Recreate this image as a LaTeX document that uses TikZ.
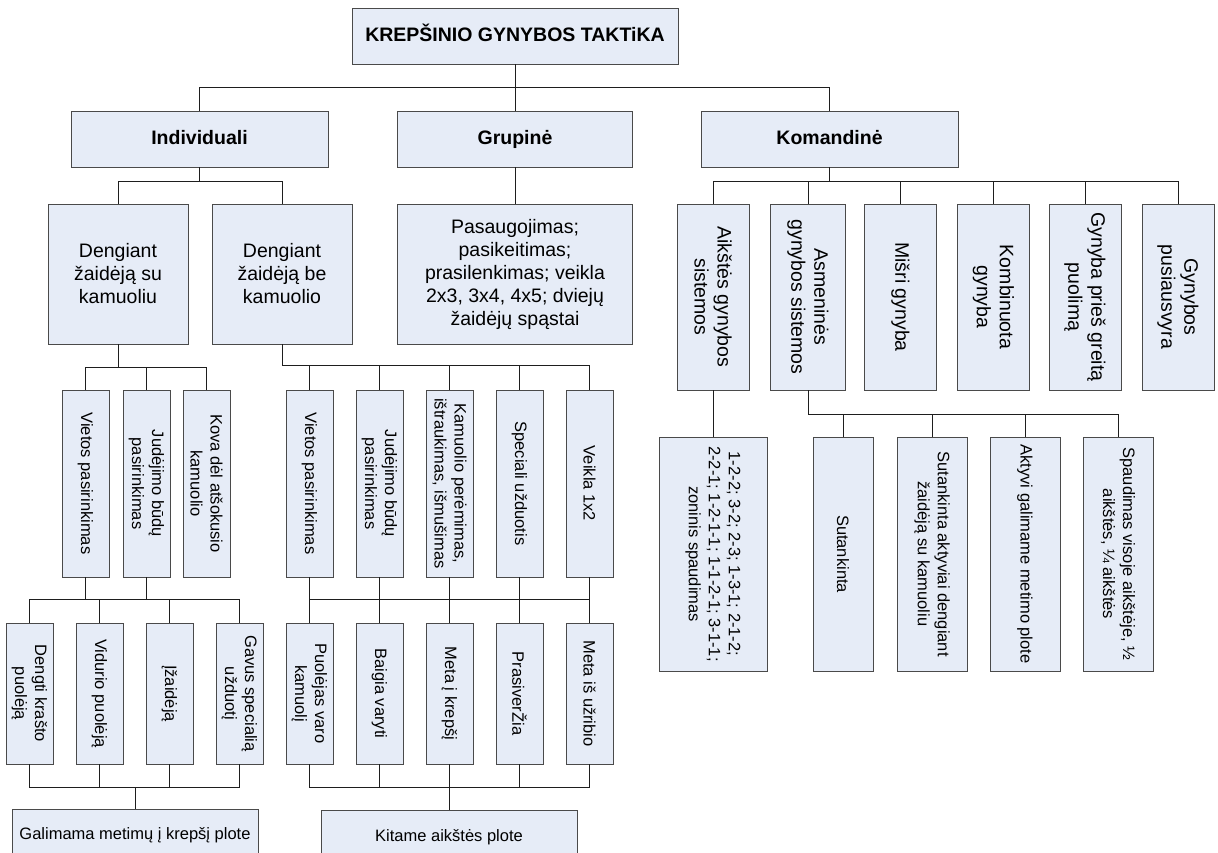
\documentclass[tikz,border=0pt]{standalone}
\usepackage{fontspec}
\setmainfont{Liberation Sans}
\definecolor{boxfill}{HTML}{E6ECF7}
\definecolor{boxline}{HTML}{4A4A4A}
\definecolor{wirecol}{HTML}{1E1E1E}
\newcommand\lgsize{\fontsize{19.5}{23}\selectfont}
\newcommand\smsize{\fontsize{16.5}{20}\selectfont}

\begin{document}
\begin{tikzpicture}[x=1pt,y=1pt,
  box/.style={draw=boxline, fill=boxfill, line width=0.9pt, inner sep=1pt, align=center},
  hbox/.style={box, font=\lgsize},
  hbold/.style={box, font=\lgsize\bfseries, text height=14pt, text depth=4pt},
  hsmall/.style={box, font=\smsize, text height=12pt, text depth=3.5pt},
  vbig/.style={box, rotate=-90, font=\lgsize},
  vsmall/.style={box, rotate=-90, font=\smsize},
  wire/.style={draw=wirecol, line width=0.9pt},
]
\useasboundingbox (0,0) rectangle (1218,-852);
\clip (0,0) rectangle (1218,-852);

% bus levels
\coordinate (bus0) at (0,-87);
\coordinate (bus1) at (0,-181);
\coordinate (busK) at (0,-414);
\coordinate (busL2) at (0,-367);
\coordinate (busR2) at (0,-365);
\coordinate (bus3) at (0,-599);
\coordinate (bus4) at (0,-787);

% root and main branches
\node[hbold, minimum width=326pt, minimum height=56pt] (root) at (515,-36) {KREPŠINIO GYNYBOS TAKTiKA};
\node[hbold, minimum width=257pt, minimum height=56pt] (ind) at (199.5,-139) {Individuali};
\node[hbold, minimum width=235pt, minimum height=56pt] (grp) at (515,-139) {Grupinė};
\node[hbold, minimum width=257pt, minimum height=56pt] (kom) at (829.5,-139) {Komandinė};

% second level
\node[hbox, minimum width=140pt, minimum height=140pt] (den1) at (118,-274) {Dengiant\\žaidėją su\\kamuoliu};
\node[hbox, minimum width=140pt, minimum height=140pt] (den2) at (282,-274) {Dengiant\\žaidėją be\\kamuolio};
\node[hbox, minimum width=235pt, minimum height=140pt] (pas) at (515,-274) {Pasaugojimas;\\pasikeitimas;\\prasilenkimas; veikla\\2x3, 3x4, 4x5; dviejų\\žaidėjų spąstai};

% team defence
\node[vbig, minimum width=186pt, minimum height=72pt] (k1) at (713,-297) {Aikštės gynybos\\sistemos};
\node[vbig, minimum width=186pt, minimum height=75pt] (k2) at (808,-297) {Asmeninės\\gynybos sistemos};
\node[vbig, minimum width=186pt, minimum height=72pt] (k3) at (900.5,-297) {Mišri gynyba};
\node[vbig, minimum width=186pt, minimum height=72pt] (k4) at (993.5,-297) {Kombinuota\\gynyba};
\node[vbig, minimum width=186pt, minimum height=72pt] (k5) at (1085,-297) {Gynyba prieš greitą\\puolimą};
\node[vbig, minimum width=186pt, minimum height=72pt] (k6) at (1178,-297) {Gynybos\\pusiausvyra};

\node[vsmall, minimum width=234pt, minimum height=108pt] (z1) at (713,-554) {1-2-2; 3-2; 2-3; 1-3-1; 2-1-2;\\2-2-1; 1-2-1-1; 1-1-2-1; 3-1-1;\\zoninis spaudimas};
\node[vsmall, minimum width=234pt, minimum height=60pt] (s1) at (843,-554) {Sutankinta};
\node[vsmall, minimum width=234pt, minimum height=70pt] (s2) at (932,-554) {Sutankinta aktyviai dengiant\\žaidėją su kamuoliu};
\node[vsmall, minimum width=234pt, minimum height=70pt] (s3) at (1025,-554) {Aktyvi galimame metimo plote};
\node[vsmall, minimum width=234pt, minimum height=70pt] (s4) at (1118,-554) {Spaudimas visoje aikštėje, ½\\aikštės, ¼ aikštės};

% guarding the ball carrier
\node[vsmall, minimum width=187pt, minimum height=47pt] (v1) at (85.5,-483.5) {Vietos pasirinkimas};
\node[vsmall, minimum width=187pt, minimum height=47pt] (v2) at (146.5,-483.5) {Judėjimo būdų\\pasirinkimas};
\node[vsmall, minimum width=187pt, minimum height=47pt] (v3) at (206.5,-483.5) {Kova dėl atšokusio\\kamuolio};

% guarding a player without the ball
\node[vsmall, minimum width=187pt, minimum height=47pt] (w1) at (309.5,-483.5) {Vietos pasirinkimas};
\node[vsmall, minimum width=187pt, minimum height=47pt] (w2) at (379.5,-483.5) {Judėjimo būdų\\pasirinkimas};
\node[vsmall, minimum width=187pt, minimum height=47pt] (w3) at (449.5,-483.5) {Kamuolio perėmimas,\\ištraukimas, išmušimas};
\node[vsmall, minimum width=187pt, minimum height=47pt] (w4) at (519.5,-483.5) {Speciali užduotis};
\node[vsmall, minimum width=187pt, minimum height=47pt] (w5) at (589.5,-483.5) {Veikla 1x2};

% third level, left
\node[vsmall, minimum width=141pt, minimum height=47pt] (d1) at (29.5,-693.5) {Dengti krašto\\puolėją};
\node[vsmall, minimum width=141pt, minimum height=47pt] (d2) at (99.5,-693.5) {Vidurio puolėją};
\node[vsmall, minimum width=141pt, minimum height=47pt] (d3) at (169.5,-693.5) {Įžaidėją};
\node[vsmall, minimum width=141pt, minimum height=47pt] (d4) at (239.5,-693.5) {Gavus specialią\\užduotį};

% third level, right
\node[vsmall, minimum width=141pt, minimum height=47pt] (m1) at (309.5,-693.5) {Puolėjas varo\\kamuolį};
\node[vsmall, minimum width=141pt, minimum height=47pt] (m2) at (379.5,-693.5) {Baigia varyti};
\node[vsmall, minimum width=141pt, minimum height=47pt] (m3) at (449.5,-693.5) {Meta į krepšį};
\node[vsmall, minimum width=141pt, minimum height=47pt] (m4) at (519.5,-693.5) {PrasiverŽia};
\node[vsmall, minimum width=141pt, minimum height=47pt] (m5) at (589.5,-693.5) {Meta iš užribio};

% court areas
\node[hsmall, minimum width=246pt, minimum height=52pt] (gal) at (135,-835) {Galimama metimų į krepšį plote};
\node[hsmall, minimum width=256pt, minimum height=54pt] (kit) at (449,-837) {Kitame aikštės plote};

% connectors: top
\draw[wire] (root.south) -- (grp.north);
\draw[wire] (ind.north) -- (ind.north |- bus0) -- (kom.north |- bus0) -- (kom.north);

% connectors: second level
\draw[wire] (ind.south) -- (ind.south |- bus1);
\draw[wire] (den1.north) -- (den1.north |- bus1) -- (den2.north |- bus1) -- (den2.north);
\draw[wire] (grp.south) -- (pas.north);
\draw[wire] (kom.south) -- (kom.south |- bus1);
\draw[wire] (k1.west) -- (k1.west |- bus1) -- (k6.west |- bus1) -- (k6.west);
\foreach \n in {k2,k3,k4,k5} \draw[wire] (\n.west) -- (\n.west |- bus1);

% connectors: team defence details
\draw[wire] (k1.east) -- (z1.west);
\draw[wire] (k2.east) -- (k2.east |- busK) -- (s4.west |- busK) -- (s4.west);
\foreach \n in {s1,s2,s3} \draw[wire] (\n.west) -- (\n.west |- busK);

% connectors: individual defence
\draw[wire] (den1.south) -- (den1.south |- busL2);
\draw[wire] (v1.west) -- (v1.west |- busL2) -- (v3.west |- busL2) -- (v3.west);
\draw[wire] (v2.west) -- (v2.west |- busL2);
\draw[wire] (den2.south) -- (den2.south |- busR2) -- (w5.west |- busR2) -- (w5.west);
\foreach \n in {w1,w2,w3,w4} \draw[wire] (\n.west) -- (\n.west |- busR2);

% connectors: third level, left
\draw[wire] (v1.east) -- (v1.east |- bus3);
\draw[wire] (v2.east) -- (v2.east |- bus3);
\draw[wire] (d1.west) -- (d1.west |- bus3) -- (d4.west |- bus3) -- (d4.west);
\foreach \n in {d2,d3} \draw[wire] (\n.west) -- (\n.west |- bus3);
\draw[wire] (d1.east) -- (d1.east |- bus4) -- (d4.east |- bus4) -- (d4.east);
\foreach \n in {d2,d3} \draw[wire] (\n.east) -- (\n.east |- bus4);
\draw[wire] (gal.north |- bus4) -- (gal.north);

% connectors: third level, right
\foreach \n in {w1,w2,w3,w4,w5} \draw[wire] (\n.east) -- (\n.east |- bus3);
\draw[wire] (m1.west) -- (m1.west |- bus3) -- (m5.west |- bus3) -- (m5.west);
\foreach \n in {m2,m3,m4} \draw[wire] (\n.west) -- (\n.west |- bus3);
\draw[wire] (m1.east) -- (m1.east |- bus4) -- (m5.east |- bus4) -- (m5.east);
\foreach \n in {m2,m3,m4} \draw[wire] (\n.east) -- (\n.east |- bus4);
\draw[wire] (kit.north |- bus4) -- (kit.north);
\end{tikzpicture}
\end{document}
